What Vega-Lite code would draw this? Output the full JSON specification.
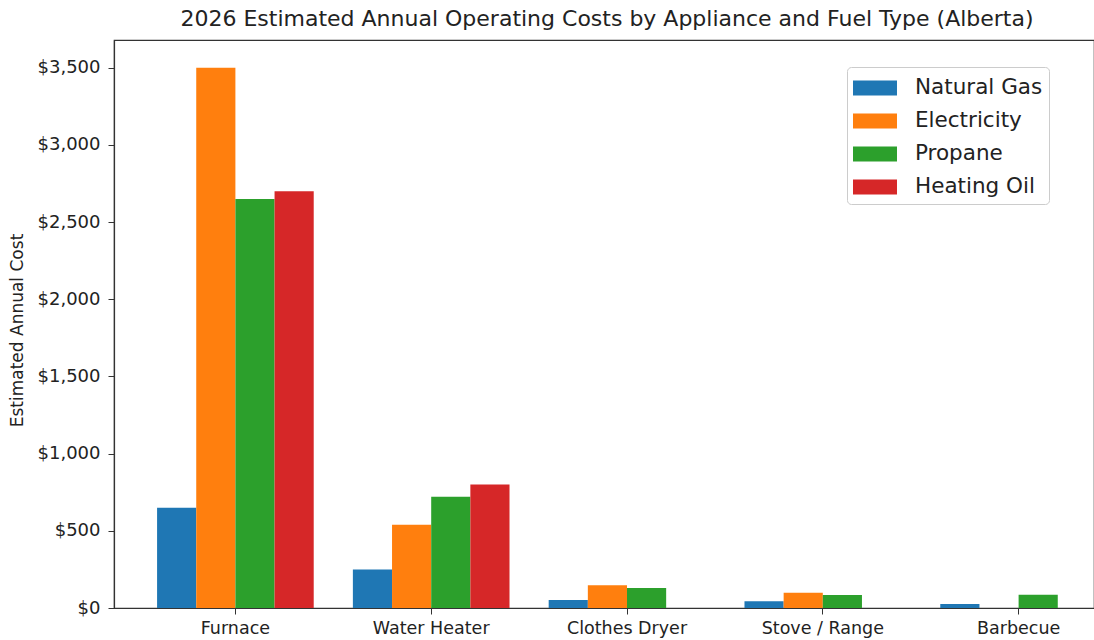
{
  "$schema": "https://vega.github.io/schema/vega-lite/v6.json",
  "width": 980,
  "height": 568,
  "autosize": {"type": "none"},
  "padding": {"left": 114, "top": 40, "right": 0, "bottom": 32},
  "background": "white",
  "title": {
    "text": "2026 Estimated Annual Operating Costs by Appliance and Fuel Type (Alberta)",
    "fontSize": 22,
    "fontWeight": "normal",
    "color": "#222",
    "offset": 9,
    "anchor": "middle",
    "frame": "group",
    "dx": 3
  },
  "data": {
    "values": [
      {"appliance": "Furnace", "fuel": "Natural Gas", "cost": 650},
      {"appliance": "Furnace", "fuel": "Electricity", "cost": 3500},
      {"appliance": "Furnace", "fuel": "Propane", "cost": 2650},
      {"appliance": "Furnace", "fuel": "Heating Oil", "cost": 2700},
      {"appliance": "Water Heater", "fuel": "Natural Gas", "cost": 250},
      {"appliance": "Water Heater", "fuel": "Electricity", "cost": 540},
      {"appliance": "Water Heater", "fuel": "Propane", "cost": 720},
      {"appliance": "Water Heater", "fuel": "Heating Oil", "cost": 800},
      {"appliance": "Clothes Dryer", "fuel": "Natural Gas", "cost": 52},
      {"appliance": "Clothes Dryer", "fuel": "Electricity", "cost": 148},
      {"appliance": "Clothes Dryer", "fuel": "Propane", "cost": 130},
      {"appliance": "Stove / Range", "fuel": "Natural Gas", "cost": 43},
      {"appliance": "Stove / Range", "fuel": "Electricity", "cost": 98},
      {"appliance": "Stove / Range", "fuel": "Propane", "cost": 85},
      {"appliance": "Barbecue", "fuel": "Natural Gas", "cost": 26},
      {"appliance": "Barbecue", "fuel": "Propane", "cost": 86}
    ]
  },
  "mark": {"type": "bar", "opacity": 1},
  "encoding": {
    "x": {
      "field": "appliance",
      "type": "nominal",
      "sort": ["Furnace", "Water Heater", "Clothes Dryer", "Stove / Range", "Barbecue"],
      "scale": {"range": [0, 1026], "paddingInner": 0.2, "paddingOuter": 0.22},
      "axis": {
        "title": null,
        "labelAngle": 0,
        "labelFontSize": 17.5,
        "labelColor": "#222",
        "labelPadding": 5,
        "tickSize": 6,
        "tickColor": "#333",
        "domainColor": "#333",
        "domainWidth": 1.2
      }
    },
    "xOffset": {
      "field": "fuel",
      "type": "nominal",
      "sort": ["Natural Gas", "Electricity", "Propane", "Heating Oil"],
      "scale": {"paddingInner": 0, "paddingOuter": 0}
    },
    "y": {
      "field": "cost",
      "type": "quantitative",
      "scale": {"domain": [0, 3680], "nice": false, "zero": true},
      "axis": {
        "title": "Estimated Annual Cost",
        "titleFontSize": 17,
        "titleFontWeight": "normal",
        "titleColor": "#222",
        "titleX": -97,
        "titleY": 290,
        "titleAngle": -90,
        "titleAlign": "center",
        "titleBaseline": "middle",
        "values": [0, 500, 1000, 1500, 2000, 2500, 3000, 3500],
        "format": "$,.0f",
        "labelFontSize": 18,
        "labelColor": "#222",
        "labelPadding": 8,
        "tickSize": 6,
        "tickColor": "#333",
        "domainColor": "#333",
        "domainWidth": 1.2,
        "grid": false
      }
    },
    "color": {
      "field": "fuel",
      "type": "nominal",
      "sort": ["Natural Gas", "Electricity", "Propane", "Heating Oil"],
      "scale": {
        "domain": ["Natural Gas", "Electricity", "Propane", "Heating Oil"],
        "range": ["#1f77b4", "#ff7f0e", "#2ca02c", "#d62728"]
      },
      "legend": {
        "title": null,
        "orient": "none",
        "legendX": 733,
        "legendY": 27,
        "symbolType": "M-1,-0.5H1.933V0.5H-1Z",
        "symbolSize": 900,
        "symbolStrokeWidth": 0,
        "symbolOpacity": 1,
        "labelFontSize": 21.5,
        "labelColor": "#222",
        "labelOffset": 32,
        "padding": 6,
        "rowPadding": 7,
        "strokeColor": "#ccc",
        "fillColor": "white",
        "cornerRadius": 4
      }
    }
  },
  "config": {
    "font": "DejaVu Sans",
    "view": {"stroke": "#333", "strokeWidth": 1.2}
  }
}
